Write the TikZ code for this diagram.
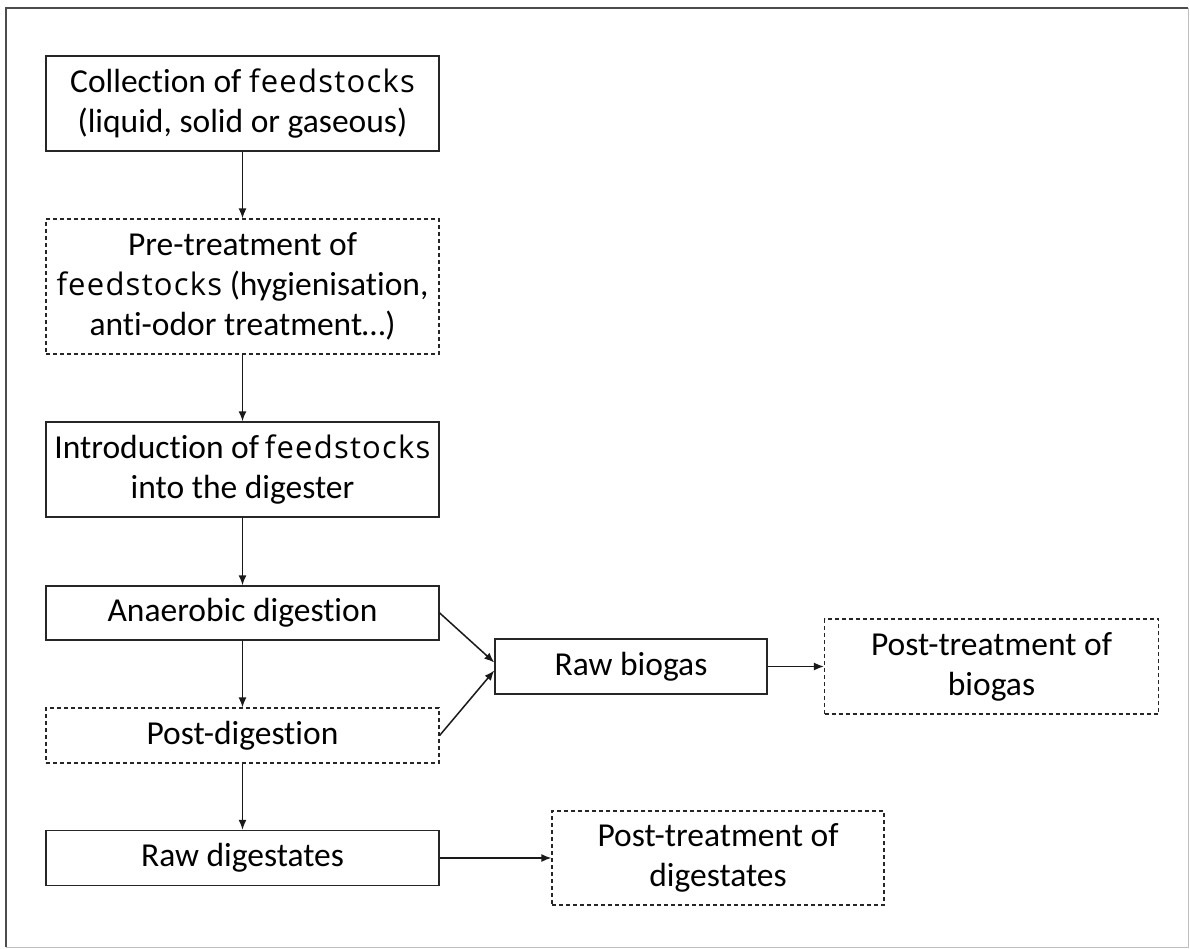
\documentclass[tikz,border=0pt]{standalone}
\usepackage{fontspec}
\setmainfont{Carlito}[Ligatures=NoCommon]
\newfontfamily\fsfont[LetterSpace=4]{Open Sans}
\usetikzlibrary{arrows.meta,calc}
\newcommand{\fs}{{\fsfont\fontsize{31}{40}\selectfont feedstocks}}
\begin{document}
\begin{tikzpicture}[x=1pt,y=-1pt,
  box/.style={draw=black!85,line width=1.4pt,inner sep=0pt,align=center,
    font=\fontsize{33.5}{40}\selectfont},
  dbox/.style={box,dash pattern=on 4pt off 3pt,line width=1.2pt},
  arr/.style={-{Latex[length=10pt,width=8pt]},line width=1.5pt,draw=black!90}]
\useasboundingbox (0,0) rectangle (1190,949);
\fill[white] (0,0) rectangle (1190,949);
\draw[black!25,line width=1pt] (1188,8) -- (1188,947) -- (6,947);
\draw[black!70,line width=1.3pt] (6,947) -- (6,8) -- (1188,8);
\node[box,minimum width=393pt,minimum height=95pt] (b1) at (242.5,103.5)
  {Collection of \fs\\(liquid, solid or gaseous)};
\node[dbox,minimum width=393pt,minimum height=135pt] (b2) at (242.5,286.5)
  {Pre-treatment of\\\fs{} (hygienisation,\\anti-odor treatment\dots)};
\node[box,minimum width=393pt,minimum height=95pt] (b3) at (242.5,469.5)
  {Introduction of\,\fs\\into the digester};
\node[box,minimum width=393pt,minimum height=54pt] (b4) at (242.5,613)
  {Anaerobic digestion};
\node[dbox,minimum width=393pt,minimum height=55pt] (b5) at (242.5,735.5)
  {Post-digestion};
\node[box,minimum width=393pt,minimum height=55pt] (b6) at (242.5,858)
  {Raw digestates};
\node[box,minimum width=272pt,minimum height=55pt] (rb) at (631,666.5)
  {Raw biogas};
\node[dbox,minimum width=334pt,minimum height=95pt] (pb) at (991.5,666.5)
  {Post-treatment of\\biogas};
\node[dbox,minimum width=332pt,minimum height=94pt] (pd) at (718,858)
  {Post-treatment of\\digestates};
\draw[arr] (b1) -- (b2);
\draw[arr] (b2) -- (b3);
\draw[arr] (b3) -- (b4);
\draw[arr] (b4) -- (b5);
\draw[arr] (b5) -- (b6);
\draw[arr] (b4.east) -- ($(rb.west)+(0,-4)$);
\draw[arr] (b5.east) -- ($(rb.west)+(0,4)$);
\draw[arr] (rb) -- (pb);
\draw[arr] (b6) -- (pd);
\end{tikzpicture}
\end{document}
